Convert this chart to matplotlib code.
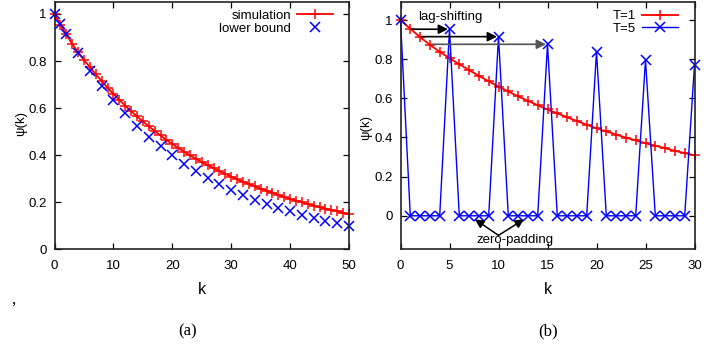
import matplotlib
matplotlib.use("Agg")
import matplotlib.pyplot as plt
import numpy as np

# psi(k)
k_sim = np.arange(0, 51)
psi_sim = [1.000, 0.955, 0.913, 0.873, 0.838, 0.805, 0.774, 0.744, 0.715, 0.687,
           0.660, 0.635, 0.610, 0.587, 0.565, 0.543, 0.523, 0.503, 0.484, 0.465,
           0.447, 0.431, 0.415, 0.399, 0.385, 0.371, 0.358, 0.345, 0.332, 0.320,
           0.309, 0.298, 0.287, 0.277, 0.267, 0.258, 0.249, 0.240, 0.231, 0.222,
           0.214, 0.207, 0.200, 0.193, 0.186, 0.179, 0.173, 0.167, 0.161, 0.155,
           0.149]

k_lb = [0, 1, 2, 4, 6, 8, 10, 12, 14, 16, 18, 20, 22, 24, 26, 28, 30,
        32, 34, 36, 38, 40, 42, 44, 46, 48, 50]
psi_lb = [1.000, 0.956, 0.914, 0.833, 0.758, 0.694, 0.635, 0.578, 0.525, 0.479,
          0.440, 0.400, 0.362, 0.333, 0.304, 0.276, 0.251, 0.231, 0.208, 0.193,
          0.174, 0.163, 0.144, 0.132, 0.122, 0.110, 0.099]

k_t = np.arange(0, 31)
psi_t1 = psi_sim[:31]
peaks_t5 = [1.000, 0.953, 0.915, 0.876, 0.839, 0.797, 0.770]  # k = 0,5,...,30
psi_t5 = []
for k in k_t:
    psi_t5.append(peaks_t5[k // 5] if k % 5 == 0 else 0.0)

FONT = ["Liberation Sans", "DejaVu Sans"]
FS = 9.5
plt.rcParams["font.family"] = FONT
plt.rcParams["font.size"] = FS

W, H = 726, 346
fig = plt.figure(figsize=(W / 100, H / 100), dpi=100)

def px_axes(x0, x1, ytop, ybot):
    return fig.add_axes([x0 / W, 1 - ybot / H, (x1 - x0) / W, (ybot - ytop) / H])

def style(ax):
    ax.tick_params(direction="in", top=True, right=True, length=4, width=0.9,
                   labelsize=FS, pad=5.5)
    ax.tick_params(axis="x", pad=8)
    for s in ax.spines.values():
        s.set_linewidth(1.2)
        s.set_color("#222222")

def fmt(v):
    return "%g" % v

red, blue = "#ff0000", "#0000ff"
leg_kw = dict(loc="upper right", frameon=False, markerfirst=False, numpoints=1,
              handlelength=2.7, handletextpad=0.5, borderpad=0, borderaxespad=0,
              labelspacing=0.05, fontsize=FS)

# ---- (a)
ax1 = px_axes(54.5, 349, 1.7, 249.3)
ax1.plot(k_sim, psi_sim, color=red, lw=1.3, marker="+", ms=7, mew=1.1,
         label="simulation", clip_on=False)
ax1.plot(k_lb, psi_lb, color=blue, ls="none", marker="x", ms=6.5, mew=1.1,
         label="lower bound", clip_on=False)
ax1.set_xlim(0, 50)
ax1.set_ylim(0, 1.052)
ax1.set_xticks(range(0, 51, 10))
ax1.set_yticks(np.arange(0, 1.01, 0.2))
ax1.set_xticklabels([fmt(v) for v in range(0, 51, 10)])
ax1.set_yticklabels([fmt(round(v, 1)) for v in np.arange(0, 1.01, 0.2)])
style(ax1)
ax1.legend(bbox_to_anchor=(0.946, 0.968), **leg_kw)

# ---- (b)
ax2 = px_axes(400.5, 694.5, 2, 248.5)
ax2.plot(k_t, psi_t1, color=red, lw=1.3, marker="+", ms=7, mew=1.1,
         label="T=1", clip_on=False)
ax2.plot(k_t, psi_t5, color=blue, lw=1.0, marker="x", ms=6.5, mew=1.1,
         label="T=5", clip_on=False)
ax2.set_xlim(0, 30)
ax2.set_ylim(-0.167, 1.092)
ax2.set_xticks(range(0, 31, 5))
ax2.set_yticks(np.arange(0, 1.01, 0.2))
ax2.set_xticklabels([fmt(v) for v in range(0, 31, 5)])
ax2.set_yticklabels([fmt(round(v, 1)) for v in np.arange(0, 1.01, 0.2)])
style(ax2)
ax2.legend(bbox_to_anchor=(0.944, 0.968), **leg_kw)

# lag-shifting arrows: from T=1 point to the matching T=5 peak
arrow_cols = ["k", "k", "#555555"]
for i in range(1, 4):
    y = peaks_t5[i]
    ax2.annotate("", xy=(5 * i - 0.15, y), xytext=(i + 0.15, y),
                 arrowprops=dict(arrowstyle="-|>", color=arrow_cols[i - 1], lw=1.2,
                                 mutation_scale=14, shrinkA=0, shrinkB=0))
ax2.text(5.05, 1.017, "lag-shifting", ha="center", va="center", fontsize=FS)

# zero-padding arrows
for xe in (7.6, 12.6):
    ax2.annotate("", xy=(xe, -0.018), xytext=(10, -0.1),
                 arrowprops=dict(arrowstyle="-|>", color="k", lw=1.1,
                                 mutation_scale=13, shrinkA=0, shrinkB=0))
ax2.text(11.7, -0.124, "zero-padding", ha="center", va="center", fontsize=FS)

# axis labels
for xc in (201.7, 547.5):
    fig.text(xc / W, 1 - 289.3 / H, "k", ha="center", va="center", fontsize=11.5)
fig.text(21.5 / W, 1 - 124 / H, "ψ(k)", ha="center", va="center", rotation=90,
         fontsize=FS)
fig.text(366 / W, 1 - 127 / H, "ψ(k)", ha="center", va="center", rotation=90,
         fontsize=FS)

# captions
serif = ["Liberation Serif", "DejaVu Serif"]
fig.text(13 / W, 1 - 300 / H, ",", ha="center", va="center", fontsize=12, family=serif)
fig.text(188 / W, 1 - 331 / H, "(a)", ha="center", va="center", fontsize=12, family=serif)
fig.text(548 / W, 1 - 331 / H, "(b)", ha="center", va="center", fontsize=12, family=serif)

fig.savefig("out.png", dpi=100)
